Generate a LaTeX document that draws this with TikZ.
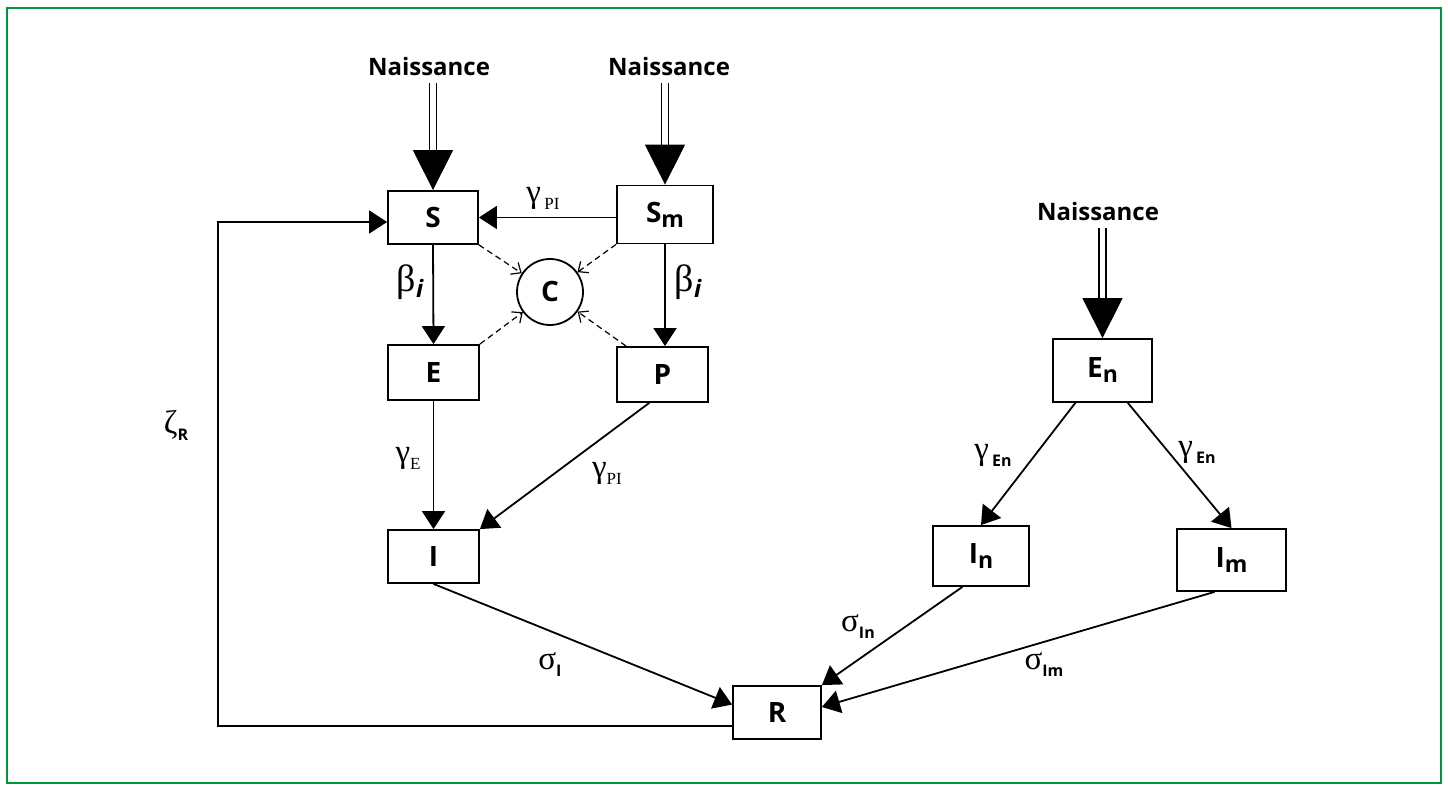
\documentclass[tikz,border=0pt]{standalone}
\usepackage{fontspec}
\setmainfont{Open Sans}
\newfontfamily\greekfont{Liberation Serif}
\usetikzlibrary{arrows.meta,calc}
\definecolor{framegreen}{RGB}{0,150,60}
% subscript inside a compartment box
\newcommand\boxsub[1]{\raisebox{-2.5pt}{\fontsize{11.5}{12}\selectfont\bfseries #1}}
% Greek rate symbol
\newcommand\grk[1]{{\greekfont\fontsize{16.5}{17}\selectfont #1}}
\newcommand\grkb[1]{{\greekfont\fontsize{19}{19}\selectfont #1}}
% sans and serif subscripts of the rates
\newcommand\ssub[1]{\raisebox{-3.5pt}{\fontsize{8}{8}\selectfont\bfseries #1}}
\newcommand\rsub[1]{\raisebox{-3.5pt}{\greekfont\fontsize{8.5}{9}\selectfont #1}}
\newcommand\isub[1]{\raisebox{-3pt}{\fontsize{12}{12}\selectfont\bfseries\itshape #1}}
\begin{document}
\begin{tikzpicture}[x=0.5pt,y=-0.5pt,
  compartment/.style={draw, line width=0.9pt, rectangle, inner sep=0pt,
    font=\fontsize{14}{15}\selectfont\bfseries},
  pool/.style={draw, line width=0.9pt, circle, minimum size=33pt, inner sep=0pt,
    font=\fontsize{14}{15}\selectfont\bfseries},
  birthlabel/.style={inner sep=3pt, font=\fontsize{12}{12}\selectfont\bfseries},
  birth/.style={double, double distance=2.75pt, line width=0.75pt,
    -{Triangle[length=20pt,width=20pt]}},
  flow/.style={line width=0.9pt, -{Triangle[length=9pt,width=11.5pt]}},
  contact/.style={line width=0.6pt, dash pattern=on 3pt off 2pt,
    -{Straight Barb[length=4pt,width=7pt]}},
  rate/.style={inner sep=0pt}
]
\useasboundingbox (0,0) rectangle (1448,785);
\draw[framegreen, line width=1.25pt] (7,8) rectangle (1441,783);

% compartments
\node[compartment, minimum width=45pt, minimum height=26.5pt] (S)  at (433,217.5) {S};
\node[compartment, minimum width=48pt, minimum height=29pt]   (Sm) at (665,214.5) {S\boxsub{m}};
\node[pool] (C) at (550,292) {C};
\node[compartment, minimum width=45.5pt, minimum height=27.5pt] (E) at (433.5,372.5) {E};
\node[compartment, minimum width=45.5pt, minimum height=27.5pt] (P) at (662.5,374.5) {P};
\node[compartment, minimum width=45.5pt, minimum height=26.5pt] (I) at (433.5,556.5) {I};
\node[compartment, minimum width=44pt, minimum height=26.5pt]   (R) at (777,712.5) {R};
\node[compartment, minimum width=49.5pt, minimum height=31.5pt] (En) at (1102.5,370.5) {E\boxsub{n}};
\node[compartment, minimum width=48pt, minimum height=30pt]     (In) at (981,556) {I\boxsub{n}};
\node[compartment, minimum width=54.5pt, minimum height=31pt]   (Im) at (1231.5,560) {I\boxsub{m}};

% births
\node[birthlabel] (nS)  at (429,67)   {Naissance};
\node[birthlabel] (nSm) at (669,67)   {Naissance};
\node[birthlabel] (nEn) at (1098,212) {Naissance};
\draw[birth] (nS.south -| S.north) -- (S.north);
\draw[birth] (nSm.south -| Sm.north) -- (Sm.north);
\draw[birth] (nEn.south -| En.north) -- (En.north);

% transitions
\draw[flow] (Sm.west |- S.east) -- (S.east);
\draw[flow] (S.south) -- (E.north);
\draw[flow] (Sm.south) -- (Sm.south |- P.north);
\draw[flow] (E.south) -- (I.north);
\draw[flow] (P.245) -- (I.north east);
\draw[flow] (I.south) -- (R.170);
\draw[flow] (En.230) -- (In.north);
\draw[flow] (En.-52) -- (Im.north);
\draw[flow] (In.239) -- (R.north east);
\draw[flow] (Im.242) -- (R.7);

% loss of immunity back to S
\coordinate (fbA) at (218,726);
\coordinate (fbB) at (218,222);
\draw[flow] (R.west |- fbA) -- (fbA) -- (fbB) -- (S.west |- fbB);

% contacts
\draw[contact] (S.south east) -- (C);
\draw[contact] (Sm.south west) -- (C);
\draw[contact] (E.north east) -- (C);
\draw[contact] ([xshift=5pt]P.north west) -- (C);

% rates
\node[rate] (gPIa) at (543,198)  {\grk{γ}\,\rsub{PI}};
\node[rate] (bSE)  at (410,282)  {\grkb{β}\isub{i}};
\node[rate] (bSmP) at (688,282)  {\grkb{β}\isub{i}};
\node[rate] (gE)   at (408,458)  {\grk{γ}\rsub{E}};
\node[rate] (gPIb) at (607,473)  {\grk{γ}\rsub{PI}};
\node[rate] (zR)   at (176,425)  {\grk{ζ}\ssub{R}};
\node[rate] (sI)   at (550,665)  {\grk{σ}\ssub{I}};
\node[rate] (sIn)  at (858,627)  {\grk{σ}\ssub{In}};
\node[rate] (sIm)  at (1044,665) {\grk{σ}\ssub{Im}};
\node[rate] (gEna) at (993,455)  {\grk{γ}\,\ssub{En}};
\node[rate] (gEnb) at (1197,452) {\grk{γ}\,\ssub{En}};
\end{tikzpicture}
\end{document}
